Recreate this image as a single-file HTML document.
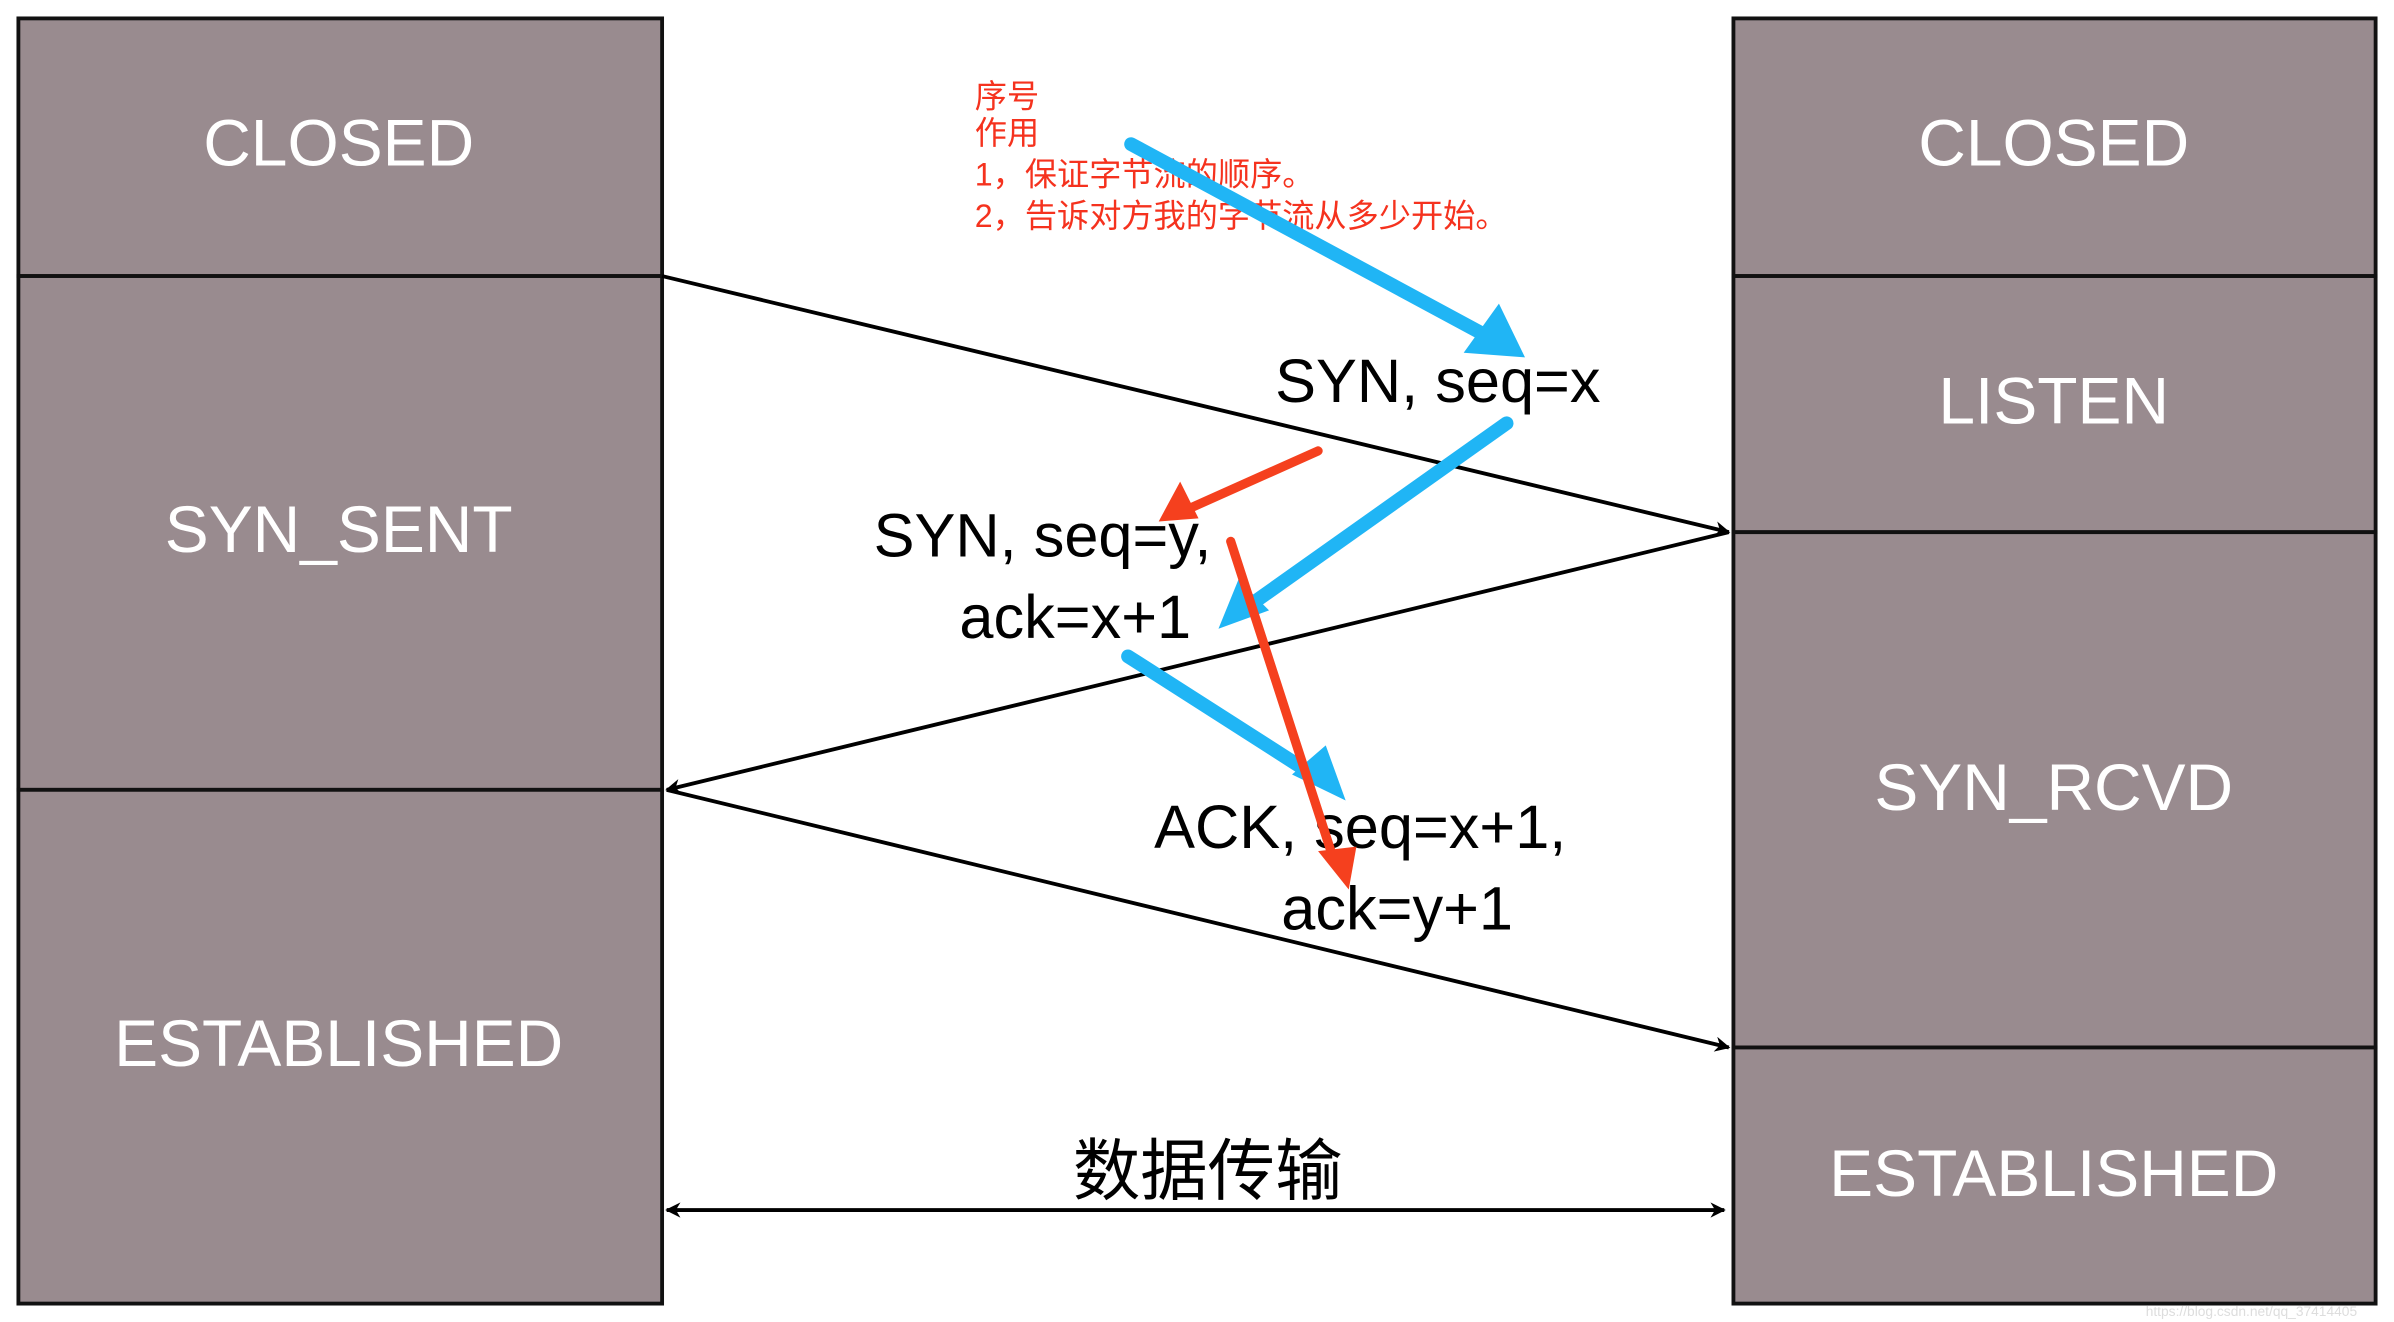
<!DOCTYPE html>
<html><head><meta charset="utf-8"><style>
html,body{margin:0;padding:0;background:#fff;}
svg{display:block;}
text{font-family:"Liberation Sans","Noto Sans CJK SC",sans-serif;}
</style></head><body>
<svg width="2394" height="1322" viewBox="0 0 1562 862" preserveAspectRatio="none" xmlns="http://www.w3.org/2000/svg">
<defs>
<marker id="ah" viewBox="0 0 10 10" refX="9" refY="5" markerWidth="10" markerHeight="10" orient="auto-start-reverse" markerUnits="userSpaceOnUse"><path d="M0,0 L10,5 L0,10 L3,5 z" fill="#000"/></marker>
</defs>
<!-- boxes -->
<g fill="#998b8f" stroke="#111" stroke-width="2.5">
<rect x="12" y="12" width="420" height="168"/>
<rect x="12" y="180" width="420" height="335"/>
<rect x="12" y="515" width="420" height="335"/>
<rect x="1131" y="12" width="419" height="168"/>
<rect x="1131" y="180" width="419" height="167"/>
<rect x="1131" y="347" width="419" height="336"/>
<rect x="1131" y="683" width="419" height="167"/>
</g>
<g fill="#fff" font-size="43" text-anchor="middle">
<text x="221" y="108">CLOSED</text>
<text x="221" y="360">SYN_SENT</text>
<text x="221" y="695">ESTABLISHED</text>
<text x="1340" y="108">CLOSED</text>
<text x="1340" y="276">LISTEN</text>
<text x="1340" y="528">SYN_RCVD</text>
<text x="1340" y="780">ESTABLISHED</text>
</g>
<!-- lines -->
<g stroke="#000" stroke-width="2.5" fill="none">
<line x1="432" y1="180" x2="1128" y2="347" marker-end="url(#ah)" style="stroke-width:2.5"/>
<line x1="1128" y1="347" x2="435" y2="515" marker-end="url(#ah)"/>
<line x1="435" y1="515" x2="1128" y2="683" marker-end="url(#ah)"/>
<line x1="435" y1="789" x2="1125" y2="789" marker-start="url(#ah)" marker-end="url(#ah)"/>
</g>
<g fill="#000" font-size="40">
<text x="832" y="262">SYN, seq=x</text>
<text x="570" y="363">SYN, seq=y,</text>
<text x="626" y="416">ack=x+1</text>
<text x="753" y="553">ACK, seq=x+1,</text>
<text x="836" y="606">ack=y+1</text>
<text x="700" y="779" font-size="44">数据传输</text>
</g>
<g fill="#f5321e" font-size="21">
<text x="636" y="70">序号</text>
<text x="636" y="94">作用</text>
<text x="636" y="121">1，保证字节流的顺序。</text>
<text x="636" y="148">2，告诉对方我的字节流从多少开始。</text>
</g>
<!-- blue arrows -->
<g stroke="#20b5f5" stroke-width="9" stroke-linecap="round" fill="#20b5f5">
<line x1="738" y1="94" x2="968" y2="218"/>
<line x1="983" y1="276" x2="815" y2="395"/>
<line x1="736" y1="428" x2="858" y2="506"/>
</g>
<g fill="#20b5f5">
<polygon points="995,233 955,230 978,198"/>
<polygon points="795,410 808,378 828,398"/>
<polygon points="878,522 843,505 865,486"/>
</g>
<!-- red arrows -->
<g stroke="#f5401e" stroke-width="6" stroke-linecap="round">
<line x1="860" y1="294" x2="775" y2="332"/>
<line x1="803" y1="353" x2="870" y2="560"/>
</g>
<g fill="#f5401e">
<polygon points="756,340 770,314 782,338"/>
<polygon points="880,580 860,555 885,552"/>
</g>
<text x="1400" y="858" font-size="9" fill="#ddd">https://blog.csdn.net/qq_37414405</text>
</svg>
</body></html>
